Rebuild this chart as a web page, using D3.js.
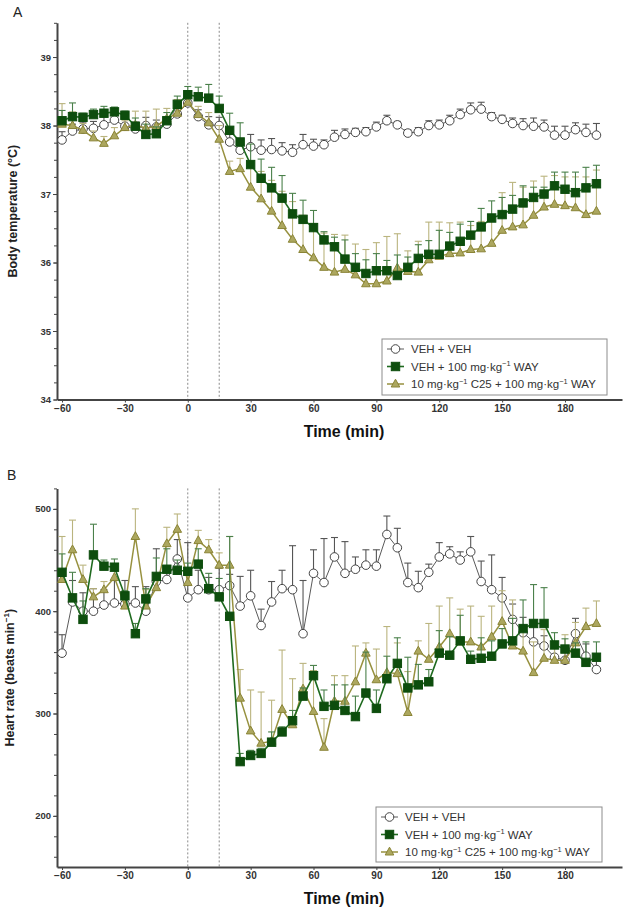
<!DOCTYPE html>
<html>
<head>
<meta charset="utf-8">
<script src="https://cdn.jsdelivr.net/npm/d3@7"></script>
<style>
  body { margin: 0; background: #fff; }
  svg { font-family: Arial, "Liberation Sans", sans-serif; }
</style>
</head>
<body>
<div id="chart"></div>
<script>
// sampling times (min)
const times = [-60, -55, -50, -45, -40, -35, -30, -25, -20, -15, -10, -5,
  0, 5, 10, 15, 20, 25, 30, 35, 40, 45, 50, 55,
  60, 65, 70, 75, 80, 85, 90, 95, 100, 105, 110, 115,
  120, 125, 130, 135, 140, 145, 150, 155, 160, 165, 170, 175,
  180, 185, 190, 195];

// Panel A: body temperature (°C), mean and SEM
const tempVeh = [37.79, 37.92, 37.95, 37.96, 38.01, 38.08, 37.99, 37.95, 38.00, 37.98, 38.02, 38.17,
  38.33, 38.13, 38.01, 38.00, 37.76, 37.64, 37.69, 37.64, 37.65, 37.63, 37.61, 37.72,
  37.70, 37.72, 37.83, 37.87, 37.90, 37.91, 37.98, 38.07, 38.01, 37.89, 37.91, 38.00,
  38.01, 38.07, 38.16, 38.23, 38.24, 38.13, 38.09, 38.03, 38.00, 37.99, 37.98, 37.86,
  37.86, 37.94, 37.90, 37.86];
const tempVehErr = [0.12, 0.1, 0.1, 0.1, 0.12, 0.1, 0.1, 0.1, 0.12, 0.1, 0.1, 0.08,
  0.08, 0.1, 0.12, 0.12, 0.12, 0.15, 0.18, 0.15, 0.16, 0.12, 0.11, 0.15,
  0.1, 0.07, 0.1, 0.08, 0.06, 0.06, 0.07, 0.08, 0.05, 0.05, 0.06, 0.07,
  0.07, 0.08, 0.08, 0.1, 0.1, 0.06, 0.06, 0.08, 0.1, 0.12, 0.1, 0.13,
  0.13, 0.1, 0.12, 0.17];
const tempWay = [38.07, 38.13, 38.12, 38.16, 38.18, 38.20, 38.15, 37.99, 37.87, 37.88, 38.07, 38.31,
  38.45, 38.42, 38.40, 38.25, 37.93, 37.76, 37.43, 37.23, 37.09, 36.94, 36.71, 36.63,
  36.51, 36.33, 36.23, 36.05, 35.93, 35.84, 35.88, 35.88, 35.81, 35.93, 36.06, 36.12,
  36.12, 36.24, 36.31, 36.40, 36.52, 36.65, 36.70, 36.78, 36.87, 36.95, 37.00, 37.12,
  37.07, 37.02, 37.09, 37.15];
const tempWayErr = [0.15, 0.2, 0.06, 0.08, 0.1, 0.07, 0.06, 0.12, 0.15, 0.1, 0.12, 0.12,
  0.12, 0.14, 0.2, 0.18, 0.25, 0.28, 0.3, 0.28, 0.3, 0.33, 0.3, 0.28,
  0.25, 0.12, 0.14, 0.28, 0.2, 0.2, 0.25, 0.15, 0.3, 0.15, 0.2, 0.2,
  0.35, 0.2, 0.25, 0.2, 0.27, 0.25, 0.25, 0.2, 0.25, 0.15, 0.1, 0.2,
  0.25, 0.3, 0.3, 0.27];
const tempC25 = [38.02, 38.00, 37.93, 37.82, 37.74, 37.85, 37.97, 38.01, 37.96, 37.99, 38.10, 38.18,
  38.34, 38.16, 38.04, 37.80, 37.33, 37.37, 37.10, 36.93, 36.75, 36.54, 36.34, 36.19,
  36.07, 35.93, 35.86, 35.90, 35.82, 35.69, 35.69, 35.73, 35.92, 35.87, 35.86, 36.04,
  36.09, 36.13, 36.14, 36.19, 36.20, 36.28, 36.47, 36.52, 36.55, 36.69, 36.81, 36.85,
  36.83, 36.80, 36.70, 36.75];
const tempC25Err = [0.3, 0.2, 0.1, 0.1, 0.1, 0.12, 0.1, 0.2, 0.25, 0.25, 0.15, 0.2,
  0.1, 0.12, 0.15, 0.2, 0.15, 0.15, 0.35, 0.4, 0.45, 0.5, 0.55, 0.5,
  0.5, 0.5, 0.55, 0.5, 0.45, 0.5, 0.6, 0.65, 0.5, 0.3, 0.45, 0.55,
  0.5, 0.45, 0.45, 0.35, 0.4, 0.4, 0.55, 0.65, 0.55, 0.5, 0.45, 0.42,
  0.42, 0.45, 0.55, 0.6];

// Panel B: heart rate (beats/min), mean and SEM
const hrVeh = [359, 409, 400, 400, 406, 408, 407, 408, 400, 429, 431, 451,
  413, 421, 421, 421, 425, 405, 415, 386, 409, 422, 421, 378,
  437, 428, 453, 437, 441, 445, 444, 475, 462, 428, 423, 438,
  453, 456, 450, 458, 429, 421, 413, 392, 379, 370, 366, 355,
  352, 378, 356, 343];
const hrVehErr = [18, 21, 18, 22, 15, 22, 23, 16, 24, 32, 12, 19,
  54, 19, 12, 21, 11, 29, 25, 16, 20, 18, 43, 52,
  23, 43, 19, 31, 12, 15, 16, 18, 19, 19, 16, 8,
  14, 7, 8, 15, 20, 34, 20, 15, 15, 18, 10, 12,
  10, 15, 12, 10];
const hrWay = [438, 413, 392, 455, 444, 443, 415, 378, 412, 434, 441, 440,
  439, 446, 422, 414, 395, 253, 259, 261, 272, 282, 293, 317,
  337, 307, 308, 303, 297, 320, 305, 334, 349, 325, 328, 331,
  359, 357, 371, 353, 354, 356, 368, 371, 383, 388, 388, 367,
  363, 359, 350, 355];
const hrWayErr = [18, 25, 18, 30, 6, 8, 5, 10, 10, 18, 20, 10,
  8, 15, 15, 18, 78, 8, 5, 5, 10, 5, 10, 8,
  10, 16, 20, 25, 20, 40, 18, 22, 25, 30, 20, 12,
  22, 18, 25, 8, 20, 15, 15, 22, 28, 38, 35, 12,
  10, 10, 20, 15];
const hrC25 = [431, 460, 431, 414, 421, 433, 405, 473, 405, 423, 466, 480,
  428, 469, 460, 445, 445, 315, 283, 271, 273, 304, 289, 324,
  302, 267, 312, 312, 331, 359, 333, 340, 339, 301, 361, 353,
  365, 378, 370, 370, 365, 375, 390, 366, 361, 340, 354, 352,
  352, 369, 385, 388];
const hrC25Err = [42, 29, 14, 8, 8, 10, 12, 27, 16, 8, 16, 15,
  12, 10, 10, 12, 28, 28, 40, 50, 40, 58, 45, 25,
  40, 28, 25, 25, 35, 10, 30, 45, 30, 40, 10, 35,
  40, 35, 32, 35, 30, 30, 30, 45, 25, 30, 28, 15,
  25, 20, 18, 22];

const xTicks = [-60, -30, 0, 30, 60, 90, 120, 150, 180];
const injectionTimes = [0, 15];
const legendLabels = [
  [{ t: 'VEH + VEH' }],
  [{ t: 'VEH + 100 mg·kg' }, { t: '−1', sup: true }, { t: ' WAY' }],
  [{ t: '10 mg·kg' }, { t: '−1', sup: true }, { t: ' C25 + 100 mg·kg' }, { t: '−1', sup: true }, { t: ' WAY' }]
];

const styles = {
  circle: { line: '#5a5a5a', lw: 1, err: '#555', fill: '#fff', stroke: '#444' },
  square: { line: '#1f6a1f', lw: 1.6, err: '#4a804a', fill: '#0d4d0d', stroke: '#0d4d0d' },
  triangle: { line: '#97913f', lw: 1.5, err: '#bab47e', fill: '#aca75f', stroke: '#8a8436' }
};

const svg = d3.select('#chart').append('svg').attr('width', 629).attr('height', 910);

const x = d3.scaleLinear().domain([-62.4, 207.2]).range([57, 622]);

const panels = [
  {
    label: 'A', labelX: 13, labelY: 17,
    y: d3.scaleLinear().domain([34, 39.5]).range([399.5, 22.8]),
    majors: [34, 35, 36, 37, 38, 39],
    minors: d3.range(34, 39.51, 0.25),
    yTitle: [{ t: 'Body temperature (°C)' }], yTitleX: 17,
    series: [
      { type: 'circle', v: tempVeh, e: tempVehErr },
      { type: 'triangle', v: tempC25, e: tempC25Err },
      { type: 'square', v: tempWay, e: tempWayErr }
    ],
    legend: { x: 382, y: 339, w: 225, h: 56 }
  },
  {
    label: 'B', labelX: 7, labelY: 480,
    y: d3.scaleLinear().domain([150, 520]).range([867, 488.4]),
    majors: [200, 300, 400, 500],
    minors: d3.range(160, 521, 20),
    yTitle: [{ t: 'Heart rate (beats min' }, { t: '−1', sup: true }, { t: ')' }], yTitleX: 14,
    series: [
      { type: 'circle', v: hrVeh, e: hrVehErr },
      { type: 'triangle', v: hrC25, e: hrC25Err },
      { type: 'square', v: hrWay, e: hrWayErr }
    ],
    legend: { x: 376, y: 807, w: 226, h: 55 }
  }
];

function marker(g, type, cx, cy) {
  const s = styles[type];
  if (type === 'circle') {
    g.append('circle').attr('cx', cx).attr('cy', cy).attr('r', 4.3)
      .attr('fill', s.fill).attr('stroke', s.stroke).attr('stroke-width', 1);
  } else if (type === 'square') {
    g.append('rect').attr('x', cx - 4.2).attr('y', cy - 4.2).attr('width', 8.4).attr('height', 8.4)
      .attr('fill', s.fill).attr('stroke', s.stroke).attr('stroke-width', 1);
  } else {
    g.append('path')
      .attr('d', `M${cx},${cy - 4.8}L${cx + 4.3},${cy + 3}L${cx - 4.3},${cy + 3}Z`)
      .attr('fill', s.fill).attr('stroke', s.stroke).attr('stroke-width', 1);
  }
}

function richText(sel, parts, size) {
  parts.forEach(p => {
    const ts = sel.append('tspan').text(p.t);
    if (p.sup) ts.attr('font-size', size * 0.65).attr('dy', -size * 0.38);
    else if (sel.selectAll('tspan').size() > 1) ts.attr('dy', size * 0.38);
  });
}

panels.forEach(p => {
  const g = svg.append('g');
  const y = p.y;
  const [yBottom, yTop] = y.range();

  // panel letter
  g.append('text').attr('x', p.labelX).attr('y', p.labelY)
    .attr('font-size', 14).attr('fill', '#222').text(p.label);

  // injection markers
  injectionTimes.forEach(t => {
    g.append('line')
      .attr('x1', x(t)).attr('x2', x(t)).attr('y1', yTop).attr('y2', yBottom)
      .attr('stroke', '#8a8a8a').attr('stroke-width', 1).attr('stroke-dasharray', '2,2');
  });

  // y axis: minor then major ticks
  g.append('g').attr('transform', `translate(${x.range()[0]},0)`)
    .call(d3.axisLeft(y).tickValues(p.minors).tickSize(3).tickFormat('').tickSizeOuter(0))
    .call(a => a.select('.domain').remove())
    .call(a => a.selectAll('line').attr('stroke', '#444'));
  const yAxis = g.append('g').attr('transform', `translate(${x.range()[0]},0)`)
    .call(d3.axisLeft(y).tickValues(p.majors).tickFormat(d3.format('d'))
      .tickSize(4).tickPadding(2).tickSizeOuter(0));
  yAxis.select('.domain').attr('stroke', '#444').attr('stroke-width', 2);
  yAxis.selectAll('line').attr('stroke', '#444');
  yAxis.selectAll('text').attr('font-size', 9.5).attr('font-weight', 'bold').attr('fill', '#333')
    .attr('font-family', 'Arial, "Liberation Sans", sans-serif');

  // x axis
  const xAxis = g.append('g').attr('transform', `translate(0,${yBottom})`)
    .call(d3.axisBottom(x).tickValues(xTicks).tickSize(3).tickPadding(2).tickSizeOuter(0));
  xAxis.select('.domain').attr('stroke', '#444').attr('stroke-width', 2);
  xAxis.selectAll('line').attr('stroke', '#444');
  xAxis.selectAll('text').attr('font-size', 10).attr('font-weight', 'bold').attr('fill', '#333')
    .attr('font-family', 'Arial, "Liberation Sans", sans-serif');

  // axis titles
  g.append('text')
    .attr('x', 344).attr('y', yBottom + 37)
    .attr('text-anchor', 'middle').attr('font-size', 16).attr('font-weight', 'bold').attr('fill', '#111')
    .text('Time (min)');
  const yt = g.append('text')
    .attr('transform', `translate(${p.yTitleX},${(yTop + yBottom) / 2}) rotate(-90)`)
    .attr('text-anchor', 'middle').attr('font-size', 12.5).attr('font-weight', 'bold').attr('fill', '#222');
  richText(yt, p.yTitle, 12.5);

  // series
  p.series.forEach(s => {
    const st = styles[s.type];
    const pts = times.map((t, i) => ({ t: t, v: s.v[i], e: s.e[i] }));
    const sg = g.append('g');
    pts.forEach(d => {
      const cx = x(d.t), y0 = y(d.v), y1 = y(d.v + d.e);
      sg.append('line').attr('x1', cx).attr('x2', cx).attr('y1', y0).attr('y2', y1)
        .attr('stroke', st.err).attr('stroke-width', 1.1);
      sg.append('line').attr('x1', cx - 3.5).attr('x2', cx + 3.5).attr('y1', y1).attr('y2', y1)
        .attr('stroke', st.err).attr('stroke-width', 1.1);
    });
    sg.append('path')
      .attr('d', d3.line().x(d => x(d.t)).y(d => y(d.v))(pts))
      .attr('fill', 'none').attr('stroke', st.line).attr('stroke-width', st.lw);
    pts.forEach(d => marker(sg, s.type, x(d.t), y(d.v)));
  });

  // legend
  const L = p.legend;
  const lg = g.append('g');
  lg.append('rect').attr('x', L.x).attr('y', L.y).attr('width', L.w).attr('height', L.h)
    .attr('fill', '#fff').attr('stroke', '#8c8c8c').attr('stroke-width', 1);
  ['circle', 'square', 'triangle'].forEach((type, i) => {
    const cy = L.y + 10 + i * 17.5;
    const st = styles[type];
    lg.append('line').attr('x1', L.x + 5).attr('x2', L.x + 22).attr('y1', cy).attr('y2', cy)
      .attr('stroke', st.line).attr('stroke-width', st.lw);
    marker(lg, type, L.x + 13.5, cy);
    const tx = lg.append('text').attr('x', L.x + 29).attr('y', cy + 4)
      .attr('font-size', 11.5).attr('fill', '#333');
    richText(tx, legendLabels[i], 11.5);
  });
});
</script>
</body>
</html>
